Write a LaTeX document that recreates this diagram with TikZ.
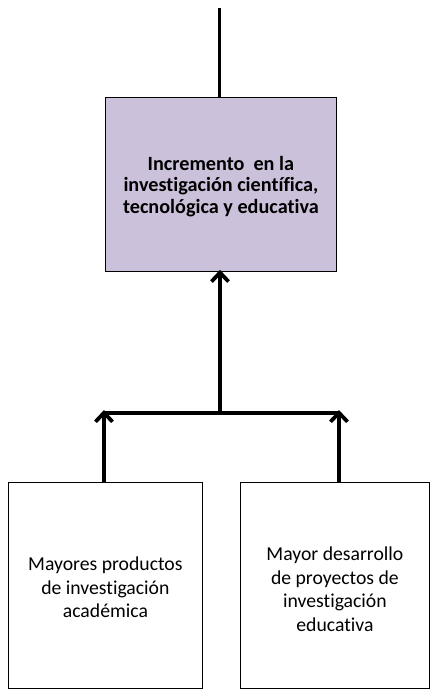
\documentclass[tikz,border=0pt]{standalone}
\usepackage{fontspec}
\setmainfont{Carlito}[RawFeature=-liga]
\usetikzlibrary{arrows.meta}
\definecolor{lav}{HTML}{CCC1DA}
\tikzset{
  thick line/.style={line width=3.8pt, line cap=butt},
  arr/.style={thick line, -{Straight Barb[length=9pt,width=17pt,line width=3.8pt]}},
  btext/.style={font=\fontsize{20.2}{21.7}\selectfont\bfseries, align=center},
  ntext/.style={font=\fontsize{19.7}{23.5}\selectfont, align=center}
}
\begin{document}
\begin{tikzpicture}[x=1pt,y=-1pt]
\useasboundingbox (0,0) rectangle (430,691);
% main box
\node[draw=black, line width=0.8pt, fill=lav, minimum width=231pt, minimum height=174pt, inner sep=0pt, anchor=north west] (main) at (105,97) {};
\node[btext] (maintext) at ([yshift=-2pt]main.center) {Incremento\ \ en la\\investigación científica,\\tecnológica y educativa};
% lower boxes
\node[draw=black, line width=0.8pt, minimum width=194pt, minimum height=206pt, inner sep=0pt, anchor=north west] (left) at (8,482) {};
\node[ntext] (lefttext) at ([yshift=-2pt]left.center) {Mayores productos\\de investigación\\académica};
\node[draw=black, line width=0.8pt, minimum width=189pt, minimum height=206pt, inner sep=0pt, anchor=north west] (right) at (240,482) {};
\node[ntext] (righttext) at ([yshift=-4pt]right.center) {Mayor desarrollo\\de proyectos de\\investigación\\educativa};
% connectors
\coordinate (topend) at (219.5,8);
\draw[thick line] (topend) -- (main.north -| topend);
\coordinate (barL) at (104,413);
\coordinate (barR) at (339,413);
\coordinate (barM) at (220,413);
\draw[thick line] (barL) -- (barR);
\draw[arr] (barM) -- ([yshift=2pt]main.south -| barM);
\draw[arr] (left.north -| barL) -- ([yshift=3pt]barL);
\draw[arr] (right.north -| barR) -- ([yshift=3pt]barR);
\end{tikzpicture}
\end{document}
